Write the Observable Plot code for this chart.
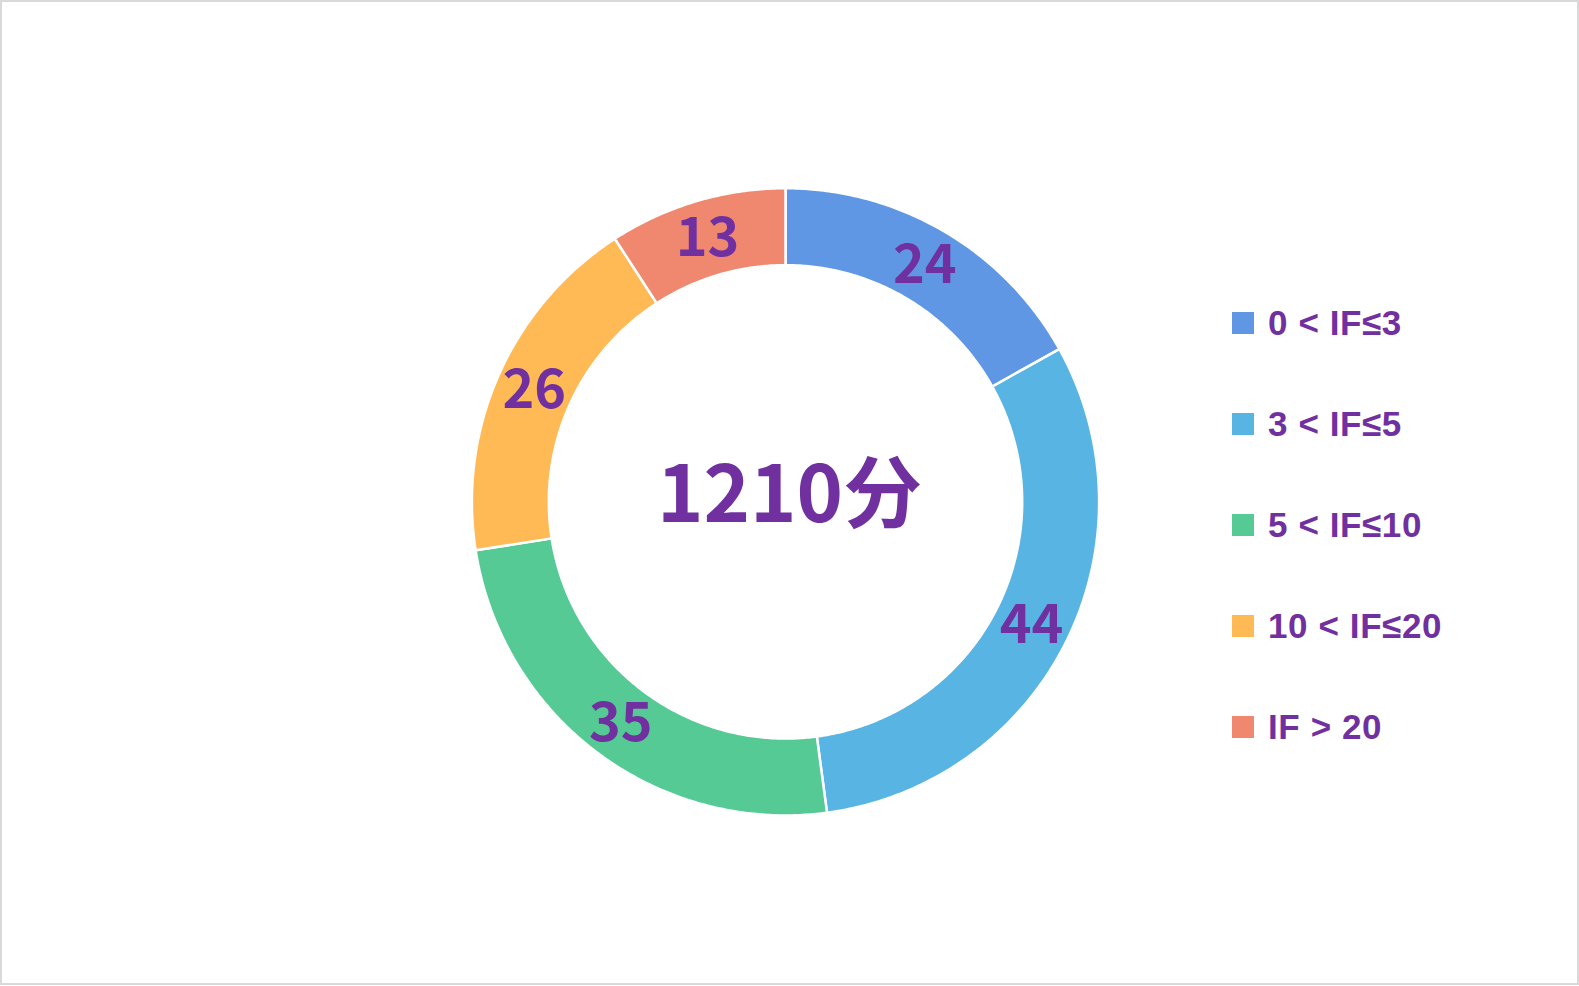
<!DOCTYPE html>
<html>
<head>
<meta charset="utf-8">
<script src="https://cdn.jsdelivr.net/npm/d3@7"></script>
<script src="https://cdn.jsdelivr.net/npm/@observablehq/plot@0.6"></script>
<style>
  html, body { margin: 0; padding: 0; background: #fff; }
  #frame { position: relative; width: 1579px; height: 985px; box-sizing: border-box; border: 2px solid #d9d9d9; overflow: hidden; }
  #chart { position: absolute; left: -2px; top: -2px; }
  #legend { position: absolute; left: 1230px; top: 306px; font-family: "Liberation Sans", Arial, sans-serif; font-weight: bold; font-size: 35px; letter-spacing: 0.6px; color: #7030a0; }
  .row { display: flex; align-items: center; height: 29px; margin-bottom: 72px; }
  .sw { width: 22px; height: 22px; margin-right: 14px; }
</style>
</head>
<body>
<div id="frame">
  <div id="chart"></div>
  <div id="legend"></div>
</div>
<script>
const categories = ["0 < IF≤3", "3 < IF≤5", "5 < IF≤10", "10 < IF≤20", "IF > 20"];
const values = [24, 44, 35, 26, 13];
const colors = ["#5f97e5", "#58b5e3", "#56ca95", "#ffb955", "#f08870"];
const centerLabel = "1210分";
const textColor = "#7030a0";

const innerRatio = 237 / 314;
const pie = d3.pie().sort(null).startAngle(0).endAngle(2 * Math.PI);
const arcs = pie(values);

// Build ring polygons in data space (unit outer radius)
const polys = [];
arcs.forEach((a, i) => {
  const n = Math.max(8, Math.ceil((a.endAngle - a.startAngle) / (Math.PI / 360)));
  const pts = [];
  for (let k = 0; k <= n; k++) {
    const t = a.startAngle + (a.endAngle - a.startAngle) * k / n;
    pts.push({x: Math.sin(t), y: Math.cos(t)});
  }
  for (let k = n; k >= 0; k--) {
    const t = a.startAngle + (a.endAngle - a.startAngle) * k / n;
    pts.push({x: innerRatio * Math.sin(t), y: innerRatio * Math.cos(t)});
  }
  pts.push(pts[0]);
  pts.forEach(p => polys.push({...p, category: categories[i]}));
});

const labels = arcs.map((a, i) => {
  const m = (a.startAngle + a.endAngle) / 2;
  const r = (1 + innerRatio) / 2;
  return {x: r * Math.sin(m), y: r * Math.cos(m), value: values[i]};
});

const cx = 786, cy = 502, R = 314;
const plot = Plot.plot({
  width: 1579,
  height: 986,
  margin: 0,
  x: {domain: [-1, 1], range: [cx - R, cx + R], axis: null},
  y: {domain: [-1, 1], range: [cy + R, cy - R], axis: null},
  color: {domain: categories, range: colors},
  style: {background: "transparent"},
  marks: [
    Plot.line(polys, {x: "x", y: "y", z: "category", fill: "category", stroke: "white", strokeWidth: 2.5, curve: "linear"}),
    Plot.text(labels, {x: "x", y: "y", text: d => String(d.value), fill: textColor, fontSize: 54, fontWeight: "bold", fontFamily: "Noto Sans CJK SC", dy: 1}),
    Plot.text([centerLabel], {x: () => 0, y: () => 0, text: d => d, fill: textColor, fontSize: 79, fontWeight: "bold", fontFamily: "Noto Sans CJK SC", dy: -5, dx: 4})
  ]
});
document.getElementById("chart").appendChild(plot);

const legend = document.getElementById("legend");
categories.forEach((c, i) => {
  const row = document.createElement("div");
  row.className = "row";
  const sw = document.createElement("div");
  sw.className = "sw";
  sw.style.background = colors[i];
  const tx = document.createElement("span");
  tx.textContent = c;
  row.appendChild(sw);
  row.appendChild(tx);
  legend.appendChild(row);
});
</script>
</body>
</html>
